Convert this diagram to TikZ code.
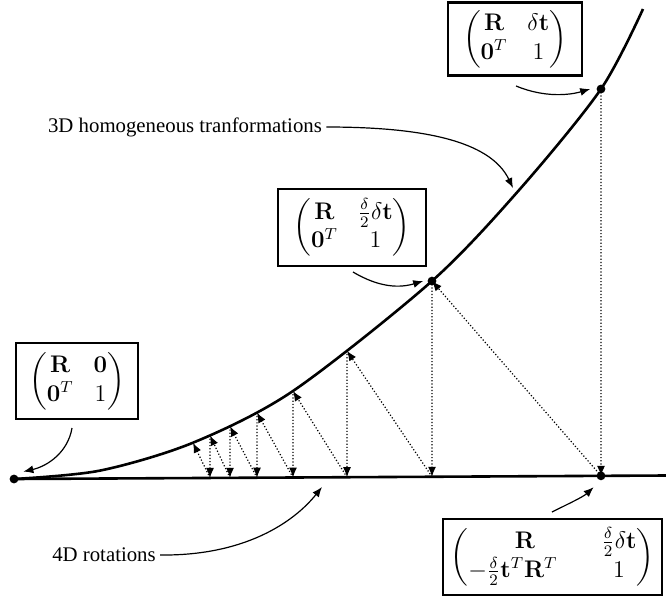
\documentclass[tikz,border=0pt]{standalone}
\usepackage{amsmath}
\usepackage[no-math]{fontspec}
\setmainfont{Liberation Serif}
\usetikzlibrary{arrows.meta,intersections}
\begin{document}
\begin{tikzpicture}[x=0.5pt,y=-0.5pt,
  mbox/.style={draw, line width=1.3pt, inner sep=0pt, font=\fontsize{12}{14.4}\selectfont},
  lbl/.style={font=\fontsize{10.4}{12.5}\selectfont, inner sep=2pt},
  thickline/.style={line width=1.3pt},
  annot/.style={line width=0.6pt, -{Latex[length=5pt,width=4pt]}},
  dotarrow/.style={densely dotted, line width=0.6pt, -{Latex[length=5pt,width=4pt]}},
  dotmark/.style={circle, fill, inner sep=0pt, minimum size=4.4pt}]
\useasboundingbox (0,0) rectangle (666,601);

% base line and curve
\coordinate (p0) at (14,479);
\coordinate (bend) at (666,475.5);
\draw[thickline, name path=base] (p0) -- (bend);
\draw[thickline, name path=curve] plot[smooth] coordinates {(14,479) (100,470.6) (193,442.7) (293,391) (432,281) (520,189) (601,89) (643,9)};

% points on curve and base
\foreach \x [count=\i] in {193,210,230,257,293,347,432,601} {
  \path[name path=vline] (\x,0) -- (\x,601);
  \path[name intersections={of=curve and vline, by={c\i}}];
  \path[name intersections={of=base and vline, by={b\i}}];
}
\foreach \i [evaluate=\i as \j using int(\i-1)] in {2,...,8} {
  \draw[dotarrow] (c\i) -- (b\i);
  \draw[dotarrow] (b\i) -- (c\j);
}

% dots
\node[dotmark] (d0) at (p0) {};
\node[dotmark] (dm) at (c7) {};
\node[dotmark] (dt) at (c8) {};
\node[dotmark] (db) at (b8) {};

% boxes
\node[mbox, minimum width=67pt, minimum height=36.5pt] (bx1) at (515,39)
  {$\begin{pmatrix}\mathbf{R} & \delta\mathbf{t}\\ \mathbf{0}^T & 1\end{pmatrix}$};
\node[mbox, minimum width=74pt, minimum height=38.5pt] (bx2) at (352,227.5)
  {$\begin{pmatrix}\mathbf{R} & \frac{\delta}{2}\delta\mathbf{t}\\ \mathbf{0}^T & 1\end{pmatrix}$};
\node[mbox, minimum width=61pt, minimum height=38pt] (bx3) at (77,381)
  {$\begin{pmatrix}\mathbf{R} & \mathbf{0}\\ \mathbf{0}^T & 1\end{pmatrix}$};
\node[mbox, minimum width=109.5pt, minimum height=38pt] (bx4) at (552.5,557)
  {$\begin{pmatrix}\mathbf{R} & \frac{\delta}{2}\delta\mathbf{t}\\ -\frac{\delta}{2}\mathbf{t}^T\mathbf{R}^T\quad & 1\end{pmatrix}$};

% labels
\node[lbl] (l3d) at (185,127) {3D homogeneous tranformations};
\node[lbl] (l4d) at (104,555) {4D rotations};

% annotation arrows
\coordinate (t1) at (516,86);
\coordinate (t2) at (353,272);
\coordinate (t3) at (72,428);
\coordinate (t4) at (552,512);
\coordinate (h3d) at (513,188);
\coordinate (h4d) at (322,487);
\draw[annot] (t1) .. controls (545,98) and (570,95) .. ([xshift=-3pt]dt.west);
\draw[annot] (t2) .. controls (380,288) and (400,288) .. ([xshift=-2pt]dm.west);
\draw[annot] (t3) .. controls (68,452) and (48,466) .. ([xshift=3pt,yshift=2pt]d0.north east);
\draw[annot] (t4) .. controls (570,503) and (583,497) .. ([yshift=-4pt,xshift=-2pt]db.south west);
\draw[annot] (l3d.east) .. controls (420,127) and (490,140) .. (h3d);
\draw[annot] (l4d.east) .. controls (245,556) and (294,522) .. (h4d);
\end{tikzpicture}
\end{document}
